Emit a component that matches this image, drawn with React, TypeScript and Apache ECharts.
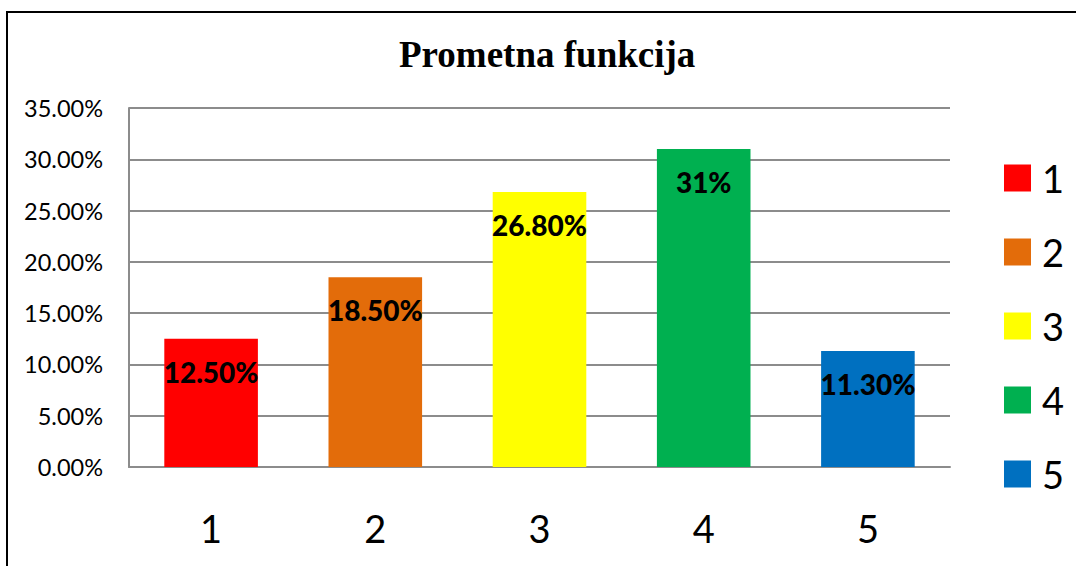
import React, { useEffect, useRef } from "react";
import * as echarts from "echarts";

const categories = ["1", "2", "3", "4", "5"];
const values = [0.125, 0.185, 0.268, 0.31, 0.113];
const valueLabels = ["12.50%", "18.50%", "26.80%", "31%", "11.30%"];
const colors = ["#FF0000", "#E36C0A", "#FFFF00", "#00B050", "#0070C0"];
const titleText = "Prometna funkcija";

export default function App() {
  const ref = useRef<HTMLDivElement>(null);
  useEffect(() => {
    if (!ref.current) return;
    const chart = echarts.init(ref.current, null, { renderer: "svg" });
    const series = categories.map((name, i) => ({
      name,
      type: "bar",
      stack: "all",
      barWidth: "57%",
      itemStyle: { color: colors[i] },
      data: categories.map((_, j) => (j === i ? values[i] : null)),
      label: {
        show: true,
        position: "insideTop",
        distance: 19,
        formatter: () => valueLabels[i],
        fontFamily: "Lato",
        fontWeight: 900,
        fontSize: 28,
        color: "#000",
      },
    }));
    chart.setOption({
      animation: false,
      textStyle: { fontFamily: "Lato" },
      title: {
        text: titleText,
        left: 394,
        top: 31,
        textStyle: {
          fontFamily: "Liberation Serif",
          fontWeight: "bold",
          fontSize: 37,
          color: "#000",
        },
      },
      graphic: [
        { type: "line", shape: { x1: 6, y1: 12, x2: 1076, y2: 12 }, style: { stroke: "#000", lineWidth: 2 } },
        { type: "line", shape: { x1: 7, y1: 12, x2: 7, y2: 566 }, style: { stroke: "#000", lineWidth: 2 } },
      ],
      legend: {
        orient: "vertical",
        left: 999,
        top: 154,
        itemWidth: 27,
        itemHeight: 27,
        itemGap: 36,
        icon: "rect",
        data: categories,
        textStyle: {
          fontFamily: "Lato",
          fontSize: 38,
          lineHeight: 27,
          color: "#000",
          padding: [0, 0, 0, 6],
        },
      },
      grid: { left: 129, right: 126, top: 108, bottom: 99, containLabel: false },
      xAxis: {
        type: "category",
        data: categories,
        axisLine: { show: true, lineStyle: { color: "#8c8c8c", width: 2 } },
        axisTick: { show: false },
        axisLabel: { fontSize: 38, color: "#000", margin: 42, fontFamily: "Lato" },
      },
      yAxis: {
        type: "value",
        min: 0,
        max: 0.35,
        interval: 0.05,
        axisLine: { show: true, lineStyle: { color: "#8c8c8c", width: 2 } },
        axisTick: { show: false },
        splitLine: { show: true, lineStyle: { color: "#8c8c8c", width: 2 } },
        axisLabel: {
          fontSize: 23.5,
          color: "#000",
          margin: 26,
          fontFamily: "Lato",
          formatter: (v: number) => (v * 100).toFixed(2) + "%",
        },
      },
      series,
    });
    return () => chart.dispose();
  }, []);
  return <div ref={ref} style={{ width: 1076, height: 566, position: "absolute", left: 0, top: 0 }} />;
}
